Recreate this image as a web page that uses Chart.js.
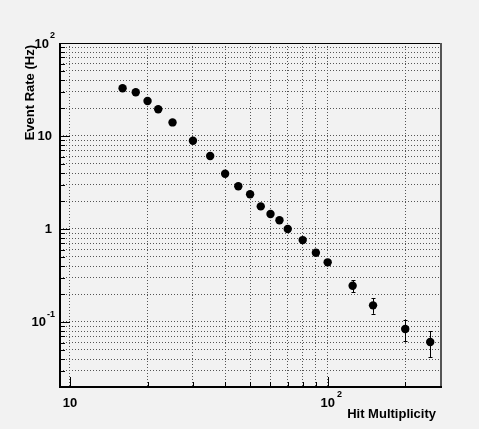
<!DOCTYPE html>
<html lang="en">
<head>
  <meta charset="UTF-8" />
  <title>Event Rate vs Hit Multiplicity</title>
  <script src="https://cdn.jsdelivr.net/npm/chart.js"></script>
  <style>
    html, body {
      margin: 0;
      padding: 0;
      background: #f2f2f2;
    }
    #chart {
      display: block;
      width: 479px;
      height: 429px;
    }
  </style>
</head>
<body>
  <canvas id="chart" width="479" height="429"></canvas>

  <script>
    const multiplicity = [16, 18, 20, 22, 25, 30, 35, 40, 45, 50, 55, 60, 65, 70, 80, 90, 100, 125, 150, 200, 250];
    const eventRate = [32.6, 29.5, 23.8, 19.4, 14.0, 8.9, 6.1, 3.93, 2.88, 2.36, 1.75, 1.45, 1.24, 1.0, 0.76, 0.556, 0.438, 0.245, 0.151, 0.084, 0.061];
    const rateError = [0.5, 0.45, 0.4, 0.35, 0.3, 0.2, 0.15, 0.1, 0.08, 0.07, 0.06, 0.05, 0.045, 0.04, 0.03, 0.028, 0.03, 0.0365, 0.0285, 0.022, 0.019];

    // grid lines (one per 1..9 of each decade)
    const gridX = [10, 20, 30, 40, 50, 60, 70, 80, 90, 100, 200];
    const gridY = [0.02, 0.03, 0.04, 0.05, 0.06, 0.07, 0.08, 0.09,
                   0.1, 0.2, 0.3, 0.4, 0.5, 0.6, 0.7, 0.8, 0.9,
                   1, 2, 3, 4, 5, 6, 7, 8, 9,
                   10, 20, 30, 40, 50, 60, 70, 80, 90, 100];

    // labelled ticks: base text + superscript exponent
    const xLabelValues = [10, 100];
    const xLabelBase = ["10", "10"];
    const xLabelExp = ["", "2"];
    const yLabelValues = [100, 10, 1, 0.1];
    const yLabelBase = ["10", "10", "1", "10"];
    const yLabelExp = ["2", "", "", "-1"];

    const xTitle = "Hit Multiplicity";
    const yTitle = "Event Rate (Hz)";

    const FONT = "'Liberation Sans', Arial, sans-serif";

    const isDecade = v => Math.abs(Math.log10(v) - Math.round(Math.log10(v))) < 1e-9;

    const rootStyle = {
      id: 'rootStyle',
      beforeDraw(chart) {
        const ctx = chart.ctx;
        ctx.save();
        ctx.fillStyle = '#f2f2f2';
        ctx.fillRect(0, 0, chart.width, chart.height);
        ctx.restore();
      },
      beforeDatasetsDraw(chart) {
        // error bars
        const ctx = chart.ctx;
        const xs = chart.scales.x, ys = chart.scales.y;
        ctx.save();
        ctx.strokeStyle = '#000';
        ctx.lineWidth = 1;
        multiplicity.forEach((m, i) => {
          const px = Math.round(xs.getPixelForValue(m)) + 0.5;
          const top = ys.getPixelForValue(eventRate[i] + rateError[i]);
          const bot = ys.getPixelForValue(eventRate[i] - rateError[i]);
          ctx.beginPath();
          ctx.moveTo(px, top);
          ctx.lineTo(px, bot);
          ctx.moveTo(px - 2, Math.round(top) + 0.5);
          ctx.lineTo(px + 2, Math.round(top) + 0.5);
          ctx.moveTo(px - 2, Math.round(bot) + 0.5);
          ctx.lineTo(px + 2, Math.round(bot) + 0.5);
          ctx.stroke();
        });
        ctx.restore();
      },
      afterDraw(chart) {
        const ctx = chart.ctx;
        const a = chart.chartArea;
        const xs = chart.scales.x, ys = chart.scales.y;
        ctx.save();

        // frame
        ctx.strokeStyle = '#000';
        ctx.lineWidth = 1;
        ctx.beginPath();
        ctx.moveTo(a.left, a.top + 0.5);
        ctx.lineTo(a.right, a.top + 0.5);
        ctx.stroke();
        ctx.strokeStyle = '#555';
        ctx.lineWidth = 2;
        ctx.beginPath();
        ctx.moveTo(a.right, a.top);
        ctx.lineTo(a.right, a.bottom);
        ctx.stroke();
        ctx.strokeStyle = '#000';
        ctx.beginPath();
        ctx.moveTo(a.left, a.top);
        ctx.lineTo(a.left, a.bottom);
        ctx.lineTo(a.right + 1, a.bottom);
        ctx.stroke();

        // inward tick marks
        ctx.lineWidth = 1;
        ctx.beginPath();
        gridX.forEach(v => {
          const px = Math.round(xs.getPixelForValue(v)) + 0.5;
          const len = isDecade(v) ? 10 : 5;
          ctx.moveTo(px, a.bottom);
          ctx.lineTo(px, a.bottom - len);
        });
        gridY.forEach(v => {
          const py = Math.round(ys.getPixelForValue(v)) + 0.5;
          const len = isDecade(v) ? 10 : 5;
          ctx.moveTo(a.left, py);
          ctx.lineTo(a.left + len, py);
        });
        ctx.stroke();

        // tick labels
        ctx.fillStyle = '#000';
        const baseFont = `bold 13px ${FONT}`;
        const expFont = `bold 9px ${FONT}`;
        ctx.textBaseline = 'alphabetic';

        xLabelValues.forEach((v, i) => {
          const px = xs.getPixelForValue(v);
          ctx.font = baseFont;
          ctx.textAlign = 'center';
          const w = ctx.measureText(xLabelBase[i]).width;
          ctx.fillText(xLabelBase[i], px, 407);
          if (xLabelExp[i]) {
            ctx.font = expFont;
            ctx.textAlign = 'left';
            ctx.fillText(xLabelExp[i], px + w / 2 + 2, 397);
          }
        });

        yLabelValues.forEach((v, i) => {
          const py = ys.getPixelForValue(v);
          ctx.font = expFont;
          const ew = yLabelExp[i] ? ctx.measureText(yLabelExp[i]).width : 0;
          ctx.font = baseFont;
          ctx.textAlign = 'right';
          if (yLabelExp[i]) {
            const right = 55;
            ctx.fillText(yLabelBase[i], right - ew - 1, py + 4.5);
            ctx.font = expFont;
            ctx.fillText(yLabelExp[i], right, py - 5);
          } else {
            ctx.fillText(yLabelBase[i], 52, py + 4.5);
          }
        });

        // axis titles
        ctx.font = `bold 13px ${FONT}`;
        ctx.textAlign = 'right';
        ctx.fillText(xTitle, 436, 418);

        ctx.translate(30, 45);
        ctx.rotate(-Math.PI / 2);
        ctx.textBaseline = 'middle';
        ctx.fillText(yTitle, 0, 0);

        ctx.restore();
      }
    };

    const gridStyle = {
      color: '#555',
      lineWidth: 1,
      drawTicks: false
    };

    new Chart(document.getElementById('chart'), {
      type: 'scatter',
      data: {
        datasets: [{
          label: yTitle,
          data: multiplicity.map((m, i) => ({ x: m, y: eventRate[i] })),
          backgroundColor: '#000',
          borderColor: '#000',
          borderWidth: 0,
          pointRadius: 4.2,
          pointHoverRadius: 4.2,
          showLine: false
        }]
      },
      options: {
        responsive: false,
        animation: false,
        events: [],
        layout: {
          padding: { top: 43, right: 38, left: 0, bottom: 0 }
        },
        plugins: {
          legend: { display: false },
          tooltip: { enabled: false }
        },
        scales: {
          x: {
            type: 'logarithmic',
            min: 9.147,
            max: 275.3,
            grid: gridStyle,
            border: { display: false, dash: [1, 2] },
            ticks: { display: false },
            afterBuildTicks: s => { s.ticks = gridX.map(v => ({ value: v })); },
            afterFit: s => { s.height = 42; }
          },
          y: {
            type: 'logarithmic',
            min: 0.02,
            max: 100,
            grid: gridStyle,
            border: { display: false, dash: [1, 2] },
            ticks: { display: false },
            afterBuildTicks: s => { s.ticks = gridY.map(v => ({ value: v })); },
            afterFit: s => { s.width = 60; }
          }
        }
      },
      plugins: [rootStyle]
    });
  </script>
</body>
</html>
